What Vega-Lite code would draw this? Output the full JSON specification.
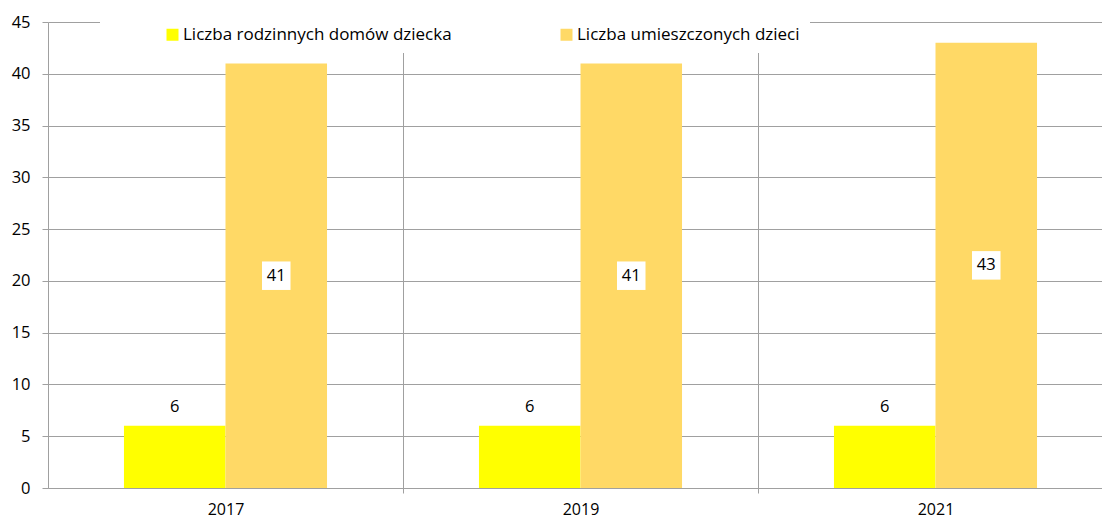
{
  "$schema": "https://vega.github.io/schema/vega-lite/v6.json",
  "width": 1054,
  "height": 466,
  "autosize": {"type": "none"},
  "padding": {"left": 48, "top": 22, "right": 0, "bottom": 31},
  "background": "white",
  "config": {
    "font": "Open Sans",
    "view": {"stroke": null}
  },
  "data": {
    "values": [
      {"year": "2017", "series": "Liczba rodzinnych domów dziecka", "value": 6},
      {"year": "2017", "series": "Liczba umieszczonych dzieci", "value": 41},
      {"year": "2019", "series": "Liczba rodzinnych domów dziecka", "value": 6},
      {"year": "2019", "series": "Liczba umieszczonych dzieci", "value": 41},
      {"year": "2021", "series": "Liczba rodzinnych domów dziecka", "value": 6},
      {"year": "2021", "series": "Liczba umieszczonych dzieci", "value": 43}
    ]
  },
  "encoding": {
    "x": {
      "field": "year",
      "type": "nominal",
      "scale": {"paddingInner": 0.428, "paddingOuter": 0.1985, "align": 0.539},
      "axis": {
        "title": null,
        "labelAngle": 0,
        "labelFontSize": 16,
        "labelColor": "#000000",
        "labelPadding": 8,
        "bandPosition": 1,
        "tickExtra": false,
        "tickOffset": 76,
        "labelOffset": -76,
        "grid": true,
        "gridColor": "#A0A0A0",
        "gridWidth": 1,
        "ticks": true,
        "tickSize": 5,
        "tickColor": "#A0A0A0",
        "domainColor": "#A0A0A0",
        "zindex": 0
      }
    },
    "xOffset": {"field": "series", "type": "nominal", "scale": {"paddingInner": 0, "paddingOuter": 0}}
  },
  "layer": [
    {
      "mark": {"type": "bar"},
      "encoding": {
        "y": {
          "field": "value",
          "type": "quantitative",
          "scale": {"domain": [0, 45], "nice": false},
          "axis": {
            "title": null,
            "values": [0, 5, 10, 15, 20, 25, 30, 35, 40, 45],
            "labelFontSize": 16.5,
            "labelColor": "#000000",
            "labelPadding": 12,
            "grid": true,
            "gridColor": "#A0A0A0",
            "tickColor": "#A0A0A0",
            "tickSize": 6,
            "domainColor": "#A0A0A0",
            "zindex": 0
          }
        },
        "color": {
          "field": "series",
          "type": "nominal",
          "scale": {"range": ["#FFFF00", "#FFD966"]},
          "legend": {
            "title": null,
            "orient": "none",
            "legendX": 52,
            "legendY": -6,
            "direction": "horizontal",
            "fillColor": "white",
            "padding": 10,
            "symbolType": "square",
            "symbolSize": 144,
            "symbolStrokeWidth": 0,
            "symbolOffset": 54,
            "labelFontSize": 17,
            "labelLimit": 500,
            "labelColor": "#000000",
            "labelOffset": 2,
            "columnPadding": 52
          }
        }
      }
    },
    {
      "transform": [{"filter": "datum.series === 'Liczba rodzinnych domów dziecka'"}],
      "mark": {"type": "text", "fontSize": 16.5, "color": "#000000", "baseline": "middle", "dy": -19},
      "encoding": {
        "y": {"field": "value", "type": "quantitative"},
        "text": {"field": "value", "type": "quantitative"}
      }
    },
    {
      "transform": [
        {"filter": "datum.series === 'Liczba umieszczonych dzieci'"},
        {"calculate": "datum.value / 2", "as": "mid"}
      ],
      "mark": {"type": "point", "shape": "square", "filled": true, "color": "white", "opacity": 1, "size": 812},
      "encoding": {
        "y": {"field": "mid", "type": "quantitative"}
      }
    },
    {
      "transform": [
        {"filter": "datum.series === 'Liczba umieszczonych dzieci'"},
        {"calculate": "datum.value / 2", "as": "mid"}
      ],
      "mark": {"type": "text", "fontSize": 16.5, "color": "#000000", "baseline": "middle"},
      "encoding": {
        "y": {"field": "mid", "type": "quantitative"},
        "text": {"field": "value", "type": "quantitative"}
      }
    }
  ]
}
